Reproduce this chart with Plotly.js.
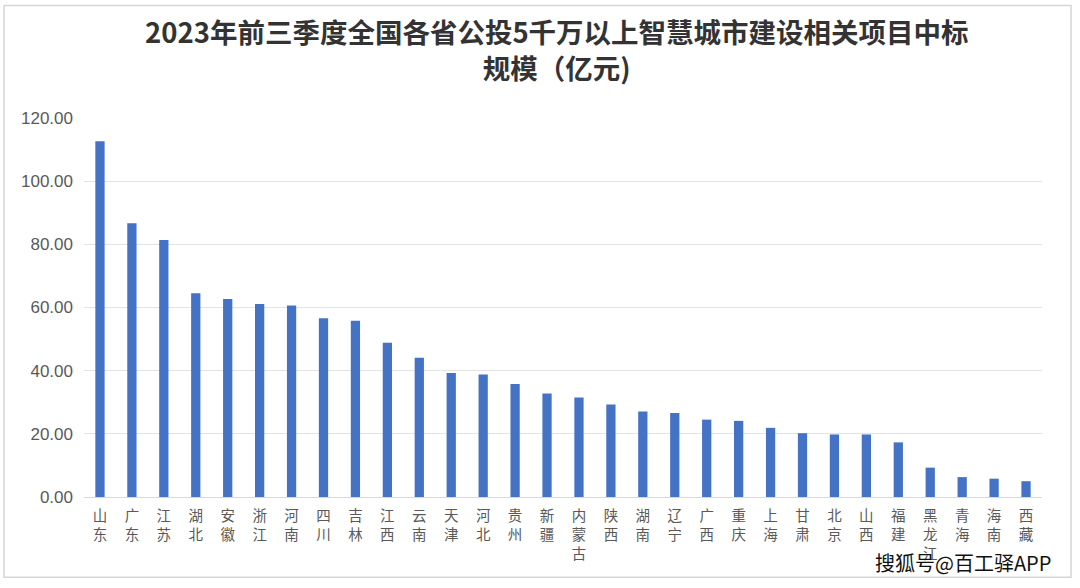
<!DOCTYPE html>
<html>
<head>
<meta charset="utf-8">
<script src="https://cdn.plot.ly/plotly-3.0.1.min.js"></script>
<style>
  html, body { margin: 0; padding: 0; background: #ffffff; }
  #chart { width: 1080px; height: 588px; }
</style>
</head>
<body>
<div id="chart"></div>
<script>
const provinces = ["山东","广东","江苏","湖北","安徽","浙江","河南","四川","吉林","江西",
  "云南","天津","河北","贵州","新疆","内蒙古","陕西","湖南","辽宁","广西",
  "重庆","上海","甘肃","北京","山西","福建","黑龙江","青海","海南","西藏"];
const values = [112.6, 86.7, 81.4, 64.5, 62.7, 61.1, 60.6, 56.6, 55.8, 48.8,
  44.1, 39.3, 38.8, 35.8, 32.8, 31.5, 29.3, 27.1, 26.6, 24.5,
  24.1, 21.9, 20.2, 19.8, 19.8, 17.3, 9.3, 6.3, 5.8, 5.0];
const yTicks = [0, 20, 40, 60, 80, 100, 120];
const yTickText = yTicks.map(v => v.toFixed(2));
const titleText = "2023年前三季度全国各省公投5千万以上智慧城市建设相关项目中标<br>规模（亿元)";
const sourceText = "搜狐号@百工驿APP";

const verticalLabels = provinces.map(p => p.split("").join("<br>"));

const trace = {
  type: "bar",
  x: provinces,
  y: values,
  marker: { color: "#4472C4" },
  hoverinfo: "x+y"
};

const layout = {
  width: 1080,
  height: 588,
  margin: { l: 84, r: 38, t: 118, b: 91 },
  paper_bgcolor: "#ffffff",
  plot_bgcolor: "#ffffff",
  bargap: 0.71,
  showlegend: false,
  xaxis: {
    type: "category",
    tickmode: "array",
    tickvals: provinces,
    ticktext: verticalLabels,
    tickangle: 0,
    tickfont: { family: "Noto Sans CJK SC, sans-serif", size: 14.5, color: "#595959" },
    showgrid: false,
    showline: true,
    linecolor: "#d9d9d9",
    linewidth: 1,
    ticks: "",
    ticklen: 0,
    ticklabelstandoff: 6,
    automargin: false
  },
  yaxis: {
    range: [0, 120],
    tickmode: "array",
    tickvals: yTicks,
    ticktext: yTickText,
    tickfont: { family: "Liberation Sans, Arial, sans-serif", size: 17, color: "#595959" },
    showgrid: true,
    gridcolor: "#e3e3e3",
    gridwidth: 1,
    zeroline: false,
    showline: false,
    ticks: "",
    ticklabelstandoff: 10,
    automargin: false
  },
  shapes: [
    { type: "rect", xref: "paper", yref: "paper",
      x0: -0.0835, x1: 1.0303, y0: -0.212, y1: 1.297,
      line: { color: "#d6d6d6", width: 1.5 }, fillcolor: "rgba(0,0,0,0)", layer: "below" }
  ],
  annotations: [
    { text: titleText, xref: "paper", yref: "paper", x: 0.494, y: 1.183,
      xanchor: "center", yanchor: "middle", showarrow: false, align: "center",
      font: { family: "Noto Sans CJK SC, sans-serif", size: 27.5, color: "#333333", weight: "bold" } },
    { text: sourceText, xref: "paper", yref: "paper", x: 1.0115, y: -0.172,
      xanchor: "right", yanchor: "middle", showarrow: false,
      font: { family: "Noto Sans CJK SC, sans-serif", size: 20, color: "#111111" } }
  ]
};

Plotly.newPlot("chart", [trace], layout, { displayModeBar: false, staticPlot: true });
</script>
</body>
</html>
